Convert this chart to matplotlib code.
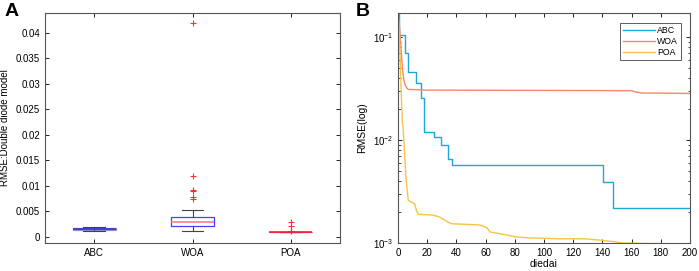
import matplotlib
matplotlib.use("Agg")
import matplotlib.pyplot as plt
from matplotlib.ticker import LogLocator, NullFormatter

plt.rcParams.update({"font.family": ["Liberation Sans", "DejaVu Sans"], "font.size": 7,
                     "xtick.direction": "in", "ytick.direction": "in",
                     "xtick.top": True, "ytick.right": True,
                     "axes.edgecolor": "#555555", "axes.linewidth": 0.8})

# ---- panel A: RMSE boxplots (double diode model) ----
ALGOS = ["ABC", "WOA", "POA"]
MED = [0.0015, 0.0030, 0.0010]
Q1 = [0.0013, 0.0021, 0.00098]
Q3 = [0.0017, 0.0039, 0.00102]
WLO = [0.0011, 0.0011, 0.00096]
WHI = [0.0020, 0.0052, 0.00104]
FLIERS = [[], [0.042, 0.012, 0.0092, 0.0090, 0.0078, 0.0074],
          [0.0030, 0.0022, 0.0012, 0.0011]]

# ---- panel B: convergence curves ----
ABC_IT = [0, 1, 4.5, 7, 12.5, 15.5, 17.5, 24.5, 29.5, 34.5, 37, 140.5, 147.5, 200]
ABC_V = [0.17, 0.105, 0.070, 0.046, 0.036, 0.0255, 0.0119, 0.0106, 0.0089,
         0.0066, 0.0057, 0.0039, 0.0022, 0.0022]
WOA_IT = [0, 1, 2, 3, 4, 5, 6, 7, 20, 60, 100, 140, 160, 163, 167, 180, 200]
WOA_V = [0.17, 0.13, 0.08, 0.05, 0.038, 0.034, 0.032, 0.031, 0.0305, 0.0304,
         0.0303, 0.0302, 0.0301, 0.0292, 0.0286, 0.0285, 0.0283]
POA_IT = [0, 1, 2, 3, 3.5, 4.5, 5.5, 7, 9, 11.4, 12.5, 13.7, 20, 24, 28, 31,
          34, 36.6, 45, 55, 58, 61, 63, 70, 76.6, 80, 90, 110, 127, 140, 148, 154, 170, 200]
POA_V = [0.17, 0.10, 0.035, 0.0145, 0.0135, 0.0074, 0.0042, 0.0026, 0.0025,
         0.0024, 0.0021, 0.0019, 0.00188, 0.00186, 0.0018, 0.0017, 0.0016,
         0.00154, 0.00152, 0.0015, 0.00147, 0.0014, 0.00128, 0.00123, 0.00118,
         0.00115, 0.00112, 0.0011, 0.0011, 0.00106, 0.00103, 0.001, 0.00099, 0.00098]

fig = plt.figure(figsize=(6.99, 2.71), dpi=100)
axA = fig.add_axes([45/699, 1-243/271, 295/699, 230/271])
axB = fig.add_axes([398/699, 1-243/271, 292/699, 230/271])

stats = []
for i in range(3):
    stats.append(dict(med=MED[i], q1=Q1[i], q3=Q3[i], whislo=WLO[i], whishi=WHI[i],
                      fliers=FLIERS[i]))
bp = axA.bxp(stats, positions=[1, 2, 3], widths=0.44, patch_artist=True,
             flierprops=dict(marker="+", markeredgecolor="#ff3030", markersize=5,
                             markeredgewidth=0.8),
             whiskerprops=dict(color="#444444", lw=0.8, ls="-"),
             capprops=dict(color="#444444", lw=0.8),
             medianprops=dict(color="#ff8080", lw=1.2))
box_face = ["#c0c0c0", "white", "white"]
box_edge = ["#9090c0", "#4040ff", "#ff2040"]
for p, fc, ec in zip(bp["boxes"], box_face, box_edge):
    p.set_facecolor(fc); p.set_edgecolor(ec); p.set_linewidth(0.9)
bp["medians"][0].set_color("#3030d0")
bp["medians"][2].set_color("#ff2040")
axA.set_xlim(0.5, 3.5)
axA.set_ylim(-0.0012, 0.0439)
axA.set_xticks([1, 2, 3])
axA.set_xticklabels(ALGOS)
axA.set_yticks([0, 0.005, 0.01, 0.015, 0.02, 0.025, 0.03, 0.035, 0.04])
axA.set_yticklabels(["0", "0.005", "0.01", "0.015", "0.02", "0.025", "0.03", "0.035", "0.04"])
axA.set_ylabel("RMSE:Double diode model", fontsize=7)
axA.tick_params(length=3, width=0.6)

axB.plot(ABC_IT, ABC_V, color="#1ea6de", lw=1.0, drawstyle="steps-post", label="ABC")
axB.plot(WOA_IT, WOA_V, color="#f5876b", lw=1.0, label="WOA")
axB.plot(POA_IT, POA_V, color="#f8c445", lw=1.0, label="POA")
axB.set_yscale("log")
axB.set_xlim(0, 200)
axB.set_ylim(1e-3, 0.171)
axB.set_xticks(range(0, 201, 20))
axB.yaxis.set_major_locator(LogLocator(base=10, numticks=10))
axB.yaxis.set_minor_locator(LogLocator(base=10, subs=range(2, 10), numticks=10))
axB.yaxis.set_minor_formatter(NullFormatter())
axB.set_xlabel("diedai", fontsize=7.5, labelpad=1)
axB.set_ylabel("RMSE(log)", fontsize=7.5)
axB.tick_params(which="major", length=3, width=0.6)
axB.tick_params(which="minor", length=1.8, width=0.5)
leg = axB.legend(loc="upper right", fontsize=6.3, fancybox=False, handlelength=3.6,
                 borderpad=0.35, labelspacing=0.2, handletextpad=0.3,
                 bbox_to_anchor=(0.985, 0.975))
leg.get_frame().set_edgecolor("#333333")
leg.get_frame().set_linewidth(0.7)

fig.text(5/699, 1-16/271, "A", fontsize=14, fontweight="bold")
fig.text(356/699, 1-16/271, "B", fontsize=14, fontweight="bold")

fig.savefig("out.png", dpi=100)
